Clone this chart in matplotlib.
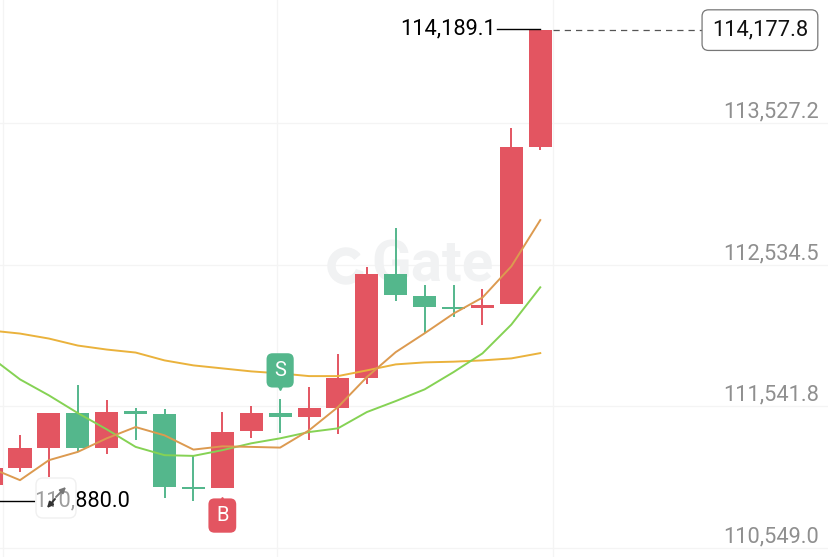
import numpy as np
import matplotlib
matplotlib.use("Agg")
import matplotlib.pyplot as plt
from matplotlib.patches import FancyBboxPatch, Wedge
from matplotlib.transforms import IdentityTransform

plt.rcParams["font.family"] = ["Roboto", "DejaVu Sans"]

# candles, oldest first
opens = [110990, 111109, 111248, 111495, 111251, 111509, 111486, 110976, 110971, 111367,
         111493, 111467, 111533, 111743, 112470, 112318, 112236, 112232, 112260, 113362]
highs = [111109, 111341, 111495, 111689, 111584, 111528, 111521, 111200, 111502, 111544,
         111596, 111677, 111906, 112516, 112795, 112390, 112395, 112367, 113494, 114189.1]
lows = [110990, 111083, 111048, 111223, 111207, 111304, 110899, 110880, 110971, 111320,
        111353, 111304, 111346, 111701, 112278, 112054, 112166, 112115, 112260, 113336]
closes = [111109, 111248, 111495, 111251, 111505, 111491, 110976, 110964, 111365, 111495,
          111467, 111530, 111740, 112470, 112320, 112236, 112227, 112255, 113359, 114177.8]

ma_fast = [111109, 111025, 111165, 111223, 111318, 111397, 111339, 111239, 111262, 111258,
           111253, 111374, 111537, 111747, 111922, 112054, 112192, 112304, 112523, 112847]
ma_mid = [111885, 111731, 111619, 111495, 111381, 111258, 111200, 111195, 111235, 111283,
          111318, 111362, 111388, 111502, 111579, 111661, 111782, 111913, 112115, 112376]
ma_slow = [112073, 112052, 112017, 111968, 111940, 111919, 111864, 111829, 111808, 111787,
           111773, 111754, 111754, 111794, 111836, 111850, 111855, 111864, 111878, 111915]

y_ticks = [113527.2, 112534.5, 111541.8, 110549.0]
last_price = 114177.8
high_price = 114189.1
low_price = 110880.0
sell_idx = 10
buy_idx = 8

RED = "#e35561"
GREEN = "#54b78c"
W, H = 829, 557

fig = plt.figure(figsize=(W / 100, H / 100), dpi=100)
ax = fig.add_axes([0, 0, 1, 1])
ax.set_xlim(0.308, 28.99)
ax.set_ylim(110486.6, 114388.9)
for s in ax.spines.values():
    s.set_visible(False)
ax.tick_params(length=0, labelleft=False, labelbottom=False)
ax.set_yticks(y_ticks)
ax.set_xticks([0.4, 9.88, 19.44])
ax.grid(True, color="#f4f4f4", lw=0.9)
ax.set_axisbelow(True)

# watermark, under the candles
wm = "#f1f2f3"
ax.annotate("Gate", xy=(371, H - 282), xycoords="figure pixels", fontsize=42, fontweight="bold",
            color=wm, zorder=1)
ax.add_patch(Wedge((346, H - 266), 18, 40, 340, width=7, color=wm, transform=IdentityTransform(), zorder=1))

idx = np.arange(len(opens))
for i in idx:
    col = RED if closes[i] >= opens[i] else GREEN
    ax.vlines(i, lows[i], highs[i], color=col, lw=1.4, zorder=3)
    bottom = min(opens[i], closes[i])
    ax.bar(i, abs(closes[i] - opens[i]), bottom=bottom, width=0.796, color=col, lw=0, zorder=3)

ax.plot(idx, ma_slow, color="#eab23c", lw=1.4, zorder=4)
ax.plot(idx, ma_mid, color="#85d254", lw=1.4, zorder=4)
ax.plot(idx, ma_fast, color="#dc9a50", lw=1.4, zorder=4)

# axis labels sit just above their grid lines
for v in y_ticks:
    ax.annotate(f"{v:,.1f}", xy=(1, v), xycoords=("axes fraction", "data"), xytext=(-10, 11),
                textcoords="offset pixels", ha="right", va="center", fontsize=15.7, color="#8f8f8f", zorder=6)

# last price tag
ax.plot([19.44, 24.6], [last_price, last_price], color="#555555", lw=0.9, dashes=(5, 4), zorder=2)
ax.annotate(f"{last_price:,.1f}", xy=(1, last_price), xycoords=("axes fraction", "data"), xytext=(-21, 0),
            textcoords="offset pixels", ha="right", va="center", fontsize=15.7, color="#111111", zorder=6,
            bbox=dict(boxstyle="round,pad=0.45,rounding_size=0.3", fc="white", ec="#777777", lw=0.9))

# high / low labels
ax.plot([17.5, 19], [high_price, high_price], color="black", lw=1, zorder=5)
ax.text(17.45, high_price, f"{high_price:,.1f}", ha="right", va="center", fontsize=15.7, color="black", zorder=6)
ax.plot([0.3, 1.47], [low_price, low_price], color="black", lw=1, zorder=5)
ax.text(1.5, low_price, f"{low_price:,.1f}", ha="left", va="center", fontsize=15.7, color="black", zorder=6)

# expand button sits over the low label
ax.add_patch(FancyBboxPatch((36, H - 518), 40, 40, boxstyle="round,pad=0,rounding_size=7",
                            fc=(1, 1, 1, 0.62), ec="#f0f0f0", lw=1, transform=IdentityTransform(), zorder=8))
ax.annotate("", xy=(66, H - 487), xytext=(56, H - 497), xycoords="figure pixels", textcoords="figure pixels",
            arrowprops=dict(arrowstyle="-|>", color="#777777", lw=1.4, mutation_scale=8, shrinkA=0, shrinkB=0), zorder=9)
ax.annotate("", xy=(47, H - 508), xytext=(55, H - 499), xycoords="figure pixels", textcoords="figure pixels",
            arrowprops=dict(arrowstyle="-|>", color="#333333", lw=1.4, mutation_scale=8, shrinkA=0, shrinkB=0), zorder=9)

# buy / sell flags
ax.annotate("S", xy=(sell_idx, 111794), ha="center", va="center", fontsize=14.5, color="white", zorder=7,
            xytext=(0, 0), textcoords="offset pixels",
            bbox=dict(boxstyle="round,pad=0.38,rounding_size=0.3", fc=GREEN, ec=GREEN, lw=0))
ax.plot(sell_idx, 111680, marker="v", ms=4, color=GREEN, zorder=7)
ax.annotate("B", xy=(buy_idx, 110777), ha="center", va="center", fontsize=14.5, color="white", zorder=7,
            xytext=(0, 0), textcoords="offset pixels",
            bbox=dict(boxstyle="round,pad=0.38,rounding_size=0.3", fc=RED, ec=RED, lw=0))
ax.plot(buy_idx, 110885, marker="^", ms=4, color=RED, zorder=7)

fig.savefig("out.png", dpi=100)
